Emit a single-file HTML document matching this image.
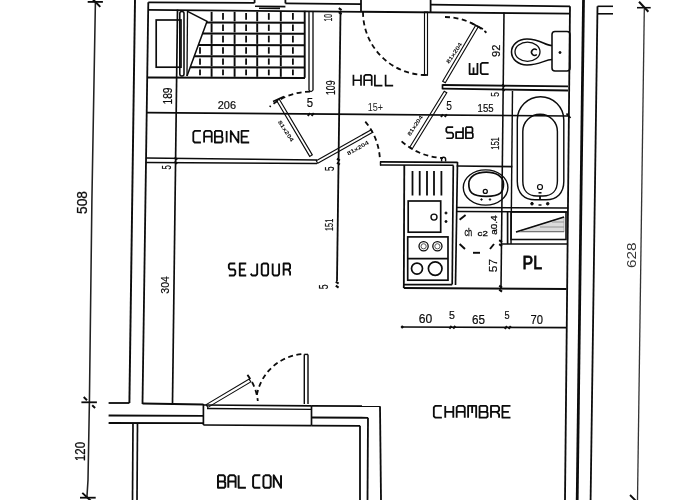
<!DOCTYPE html>
<html><head><meta charset="utf-8"><style>
html,body{margin:0;padding:0;background:#fff;width:700px;height:500px;overflow:hidden}
svg{display:block}
</style></head><body>
<svg width="700" height="500" viewBox="0 0 700 500" stroke-linecap="butt">
<rect width="700" height="500" fill="#fff"/>
<g opacity="0.999">
<path d="M95.4,2.3 L91.9,200 L89.4,402.3 L88,480 L86.9,497.7" stroke="#222" stroke-width="1.56" fill="none"/>
<line x1="87.7" y1="1.9" x2="102.9" y2="1.9" stroke="#0c0c0c" stroke-width="1.80"/>
<line x1="93" y1="-0.5" x2="100.3" y2="6.9" stroke="#0c0c0c" stroke-width="2.04"/>
<line x1="81.4" y1="402.3" x2="96.9" y2="402.3" stroke="#0c0c0c" stroke-width="1.80"/>
<line x1="83.7" y1="397" x2="87" y2="400.2" stroke="#0c0c0c" stroke-width="1.92"/>
<line x1="92.2" y1="405.2" x2="95.1" y2="408" stroke="#0c0c0c" stroke-width="1.92"/>
<line x1="80" y1="497.7" x2="95.7" y2="497.7" stroke="#0c0c0c" stroke-width="1.80"/>
<line x1="82.3" y1="492.9" x2="91" y2="501" stroke="#0c0c0c" stroke-width="1.92"/>
<text transform="translate(86.86,214.00) rotate(-90)" x="0.00" y="0" font-family="Liberation Sans" font-size="14.12" font-weight="normal" fill="#0c0c0c" stroke="#0c0c0c" stroke-width="0.25" textLength="23.01" lengthAdjust="spacingAndGlyphs">508</text>
<text transform="translate(84.84,461.00) rotate(-90)" x="0.00" y="0" font-family="Liberation Sans" font-size="15.54" font-weight="normal" fill="#0c0c0c" stroke="#0c0c0c" stroke-width="0.25" textLength="19.01" lengthAdjust="spacingAndGlyphs">120</text>
<line x1="644.3" y1="9" x2="637.5" y2="500" stroke="#333" stroke-width="1.32"/>
<line x1="637" y1="7.7" x2="650.7" y2="7.7" stroke="#0c0c0c" stroke-width="1.56"/>
<line x1="639" y1="1.7" x2="648.4" y2="11.7" stroke="#0c0c0c" stroke-width="2.04"/>
<line x1="630" y1="495" x2="636" y2="501" stroke="#0c0c0c" stroke-width="1.80"/>
<text transform="translate(635.86,268.00) rotate(-90)" x="0.00" y="0" font-family="Liberation Sans" font-size="13.56" font-weight="normal" fill="#333" textLength="25.61" lengthAdjust="spacingAndGlyphs">628</text>
<line x1="135" y1="0" x2="129.4" y2="403" stroke="#0c0c0c" stroke-width="1.92"/>
<line x1="108.6" y1="403" x2="129.4" y2="403" stroke="#0c0c0c" stroke-width="1.80"/>
<line x1="148.3" y1="2.3" x2="142.5" y2="404" stroke="#0c0c0c" stroke-width="1.80"/>
<line x1="142.5" y1="403.5" x2="203.4" y2="404.5" stroke="#0c0c0c" stroke-width="1.80"/>
<line x1="108.6" y1="415.5" x2="203.4" y2="415.8" stroke="#0c0c0c" stroke-width="1.80"/>
<line x1="108.6" y1="423" x2="203.4" y2="423.2" stroke="#0c0c0c" stroke-width="1.80"/>
<line x1="133" y1="423" x2="132.5" y2="500" stroke="#0c0c0c" stroke-width="1.68"/>
<line x1="137.5" y1="423" x2="137" y2="500" stroke="#0c0c0c" stroke-width="1.68"/>
<line x1="148.3" y1="2.3" x2="254.6" y2="2.9" stroke="#0c0c0c" stroke-width="1.80"/>
<line x1="254.6" y1="0" x2="254.6" y2="2.9" stroke="#0c0c0c" stroke-width="1.80"/>
<line x1="285.4" y1="3.4" x2="361" y2="4.1" stroke="#0c0c0c" stroke-width="1.80"/>
<line x1="285.4" y1="0" x2="285.4" y2="3.4" stroke="#0c0c0c" stroke-width="1.80"/>
<line x1="361" y1="0" x2="361" y2="11.5" stroke="#0c0c0c" stroke-width="1.80"/>
<line x1="430.6" y1="4.6" x2="570" y2="6.3" stroke="#0c0c0c" stroke-width="1.80"/>
<line x1="430.6" y1="0" x2="430.6" y2="12" stroke="#0c0c0c" stroke-width="1.80"/>
<line x1="255" y1="6.3" x2="285.4" y2="6.6" stroke="#0c0c0c" stroke-width="1.56"/>
<line x1="259" y1="8.2" x2="280" y2="8.4" stroke="#0c0c0c" stroke-width="1.56"/>
<line x1="148" y1="9.9" x2="570" y2="13.6" stroke="#0c0c0c" stroke-width="1.80"/>
<line x1="570" y1="6.3" x2="565" y2="500" stroke="#0c0c0c" stroke-width="1.80"/>
<line x1="583.5" y1="0" x2="577.2" y2="500" stroke="#0c0c0c" stroke-width="2.76"/>
<line x1="597.5" y1="6.3" x2="590.6" y2="500" stroke="#0c0c0c" stroke-width="1.80"/>
<line x1="597.5" y1="6.3" x2="613" y2="6.3" stroke="#0c0c0c" stroke-width="1.56"/>
<line x1="597.5" y1="13.8" x2="613" y2="13.8" stroke="#0c0c0c" stroke-width="1.56"/>
<rect x="156.2" y="20" width="24.80000000000001" height="47.2" rx="0" stroke="#0c0c0c" stroke-width="1.68" fill="none"/>
<line x1="177.5" y1="9.5" x2="172.5" y2="403" stroke="#0c0c0c" stroke-width="1.68"/>
<rect x="179.8" y="11.5" width="4.199999999999989" height="64.5" rx="2" stroke="#0c0c0c" stroke-width="1.56" fill="none"/>
<line x1="187.5" y1="11" x2="187" y2="76" stroke="#0c0c0c" stroke-width="1.32"/>
<path d="M187.5,11.4 L207,21.4 L187,76" stroke="#0c0c0c" stroke-width="1.56" fill="none"/>
<line x1="206.5970695970696" y1="22.5" x2="305" y2="22.7" stroke="#0c0c0c" stroke-width="2.04"/>
<line x1="202.56776556776558" y1="33.5" x2="305" y2="33.7" stroke="#0c0c0c" stroke-width="2.04"/>
<line x1="198.35531135531136" y1="45" x2="305" y2="45.2" stroke="#0c0c0c" stroke-width="2.04"/>
<line x1="194.25274725274724" y1="56.2" x2="305" y2="56.400000000000006" stroke="#0c0c0c" stroke-width="2.04"/>
<line x1="190.1868131868132" y1="67.3" x2="305" y2="67.5" stroke="#0c0c0c" stroke-width="2.04"/>
<line x1="148" y1="77.5" x2="305" y2="78" stroke="#0c0c0c" stroke-width="2.04"/>
<line x1="200" y1="47.199999999999996" x2="200" y2="53.7" stroke="#0c0c0c" stroke-width="1.80"/>
<line x1="200" y1="58.5" x2="200" y2="64.7" stroke="#0c0c0c" stroke-width="1.80"/>
<line x1="200" y1="69.5" x2="200" y2="75.3" stroke="#0c0c0c" stroke-width="1.80"/>
<line x1="211.6" y1="11.8" x2="211.6" y2="21.3" stroke="#0c0c0c" stroke-width="1.92"/>
<line x1="211.6" y1="23.3" x2="211.6" y2="32.4" stroke="#0c0c0c" stroke-width="1.92"/>
<line x1="211.6" y1="34.4" x2="211.6" y2="43.9" stroke="#0c0c0c" stroke-width="1.92"/>
<line x1="211.6" y1="45.9" x2="211.6" y2="55.2" stroke="#0c0c0c" stroke-width="1.92"/>
<line x1="211.6" y1="57.2" x2="211.6" y2="66.2" stroke="#0c0c0c" stroke-width="1.92"/>
<line x1="211.6" y1="68.2" x2="211.6" y2="76.8" stroke="#0c0c0c" stroke-width="1.92"/>
<line x1="223" y1="13.100000000000001" x2="223" y2="19.8" stroke="#0c0c0c" stroke-width="1.80"/>
<line x1="223" y1="24.6" x2="223" y2="30.9" stroke="#0c0c0c" stroke-width="1.80"/>
<line x1="223" y1="35.699999999999996" x2="223" y2="42.4" stroke="#0c0c0c" stroke-width="1.80"/>
<line x1="223" y1="47.199999999999996" x2="223" y2="53.7" stroke="#0c0c0c" stroke-width="1.80"/>
<line x1="223" y1="58.5" x2="223" y2="64.7" stroke="#0c0c0c" stroke-width="1.80"/>
<line x1="223" y1="69.5" x2="223" y2="75.3" stroke="#0c0c0c" stroke-width="1.80"/>
<line x1="234.6" y1="11.8" x2="234.6" y2="21.3" stroke="#0c0c0c" stroke-width="1.92"/>
<line x1="234.6" y1="23.3" x2="234.6" y2="32.4" stroke="#0c0c0c" stroke-width="1.92"/>
<line x1="234.6" y1="34.4" x2="234.6" y2="43.9" stroke="#0c0c0c" stroke-width="1.92"/>
<line x1="234.6" y1="45.9" x2="234.6" y2="55.2" stroke="#0c0c0c" stroke-width="1.92"/>
<line x1="234.6" y1="57.2" x2="234.6" y2="66.2" stroke="#0c0c0c" stroke-width="1.92"/>
<line x1="234.6" y1="68.2" x2="234.6" y2="76.8" stroke="#0c0c0c" stroke-width="1.92"/>
<line x1="246.1" y1="13.100000000000001" x2="246.1" y2="19.8" stroke="#0c0c0c" stroke-width="1.80"/>
<line x1="246.1" y1="24.6" x2="246.1" y2="30.9" stroke="#0c0c0c" stroke-width="1.80"/>
<line x1="246.1" y1="35.699999999999996" x2="246.1" y2="42.4" stroke="#0c0c0c" stroke-width="1.80"/>
<line x1="246.1" y1="47.199999999999996" x2="246.1" y2="53.7" stroke="#0c0c0c" stroke-width="1.80"/>
<line x1="246.1" y1="58.5" x2="246.1" y2="64.7" stroke="#0c0c0c" stroke-width="1.80"/>
<line x1="246.1" y1="69.5" x2="246.1" y2="75.3" stroke="#0c0c0c" stroke-width="1.80"/>
<line x1="257.2" y1="11.8" x2="257.2" y2="21.3" stroke="#0c0c0c" stroke-width="1.92"/>
<line x1="257.2" y1="23.3" x2="257.2" y2="32.4" stroke="#0c0c0c" stroke-width="1.92"/>
<line x1="257.2" y1="34.4" x2="257.2" y2="43.9" stroke="#0c0c0c" stroke-width="1.92"/>
<line x1="257.2" y1="45.9" x2="257.2" y2="55.2" stroke="#0c0c0c" stroke-width="1.92"/>
<line x1="257.2" y1="57.2" x2="257.2" y2="66.2" stroke="#0c0c0c" stroke-width="1.92"/>
<line x1="257.2" y1="68.2" x2="257.2" y2="76.8" stroke="#0c0c0c" stroke-width="1.92"/>
<line x1="268.8" y1="13.100000000000001" x2="268.8" y2="19.8" stroke="#0c0c0c" stroke-width="1.80"/>
<line x1="268.8" y1="24.6" x2="268.8" y2="30.9" stroke="#0c0c0c" stroke-width="1.80"/>
<line x1="268.8" y1="35.699999999999996" x2="268.8" y2="42.4" stroke="#0c0c0c" stroke-width="1.80"/>
<line x1="268.8" y1="47.199999999999996" x2="268.8" y2="53.7" stroke="#0c0c0c" stroke-width="1.80"/>
<line x1="268.8" y1="58.5" x2="268.8" y2="64.7" stroke="#0c0c0c" stroke-width="1.80"/>
<line x1="268.8" y1="69.5" x2="268.8" y2="75.3" stroke="#0c0c0c" stroke-width="1.80"/>
<line x1="280.8" y1="11.8" x2="280.8" y2="21.3" stroke="#0c0c0c" stroke-width="1.92"/>
<line x1="280.8" y1="23.3" x2="280.8" y2="32.4" stroke="#0c0c0c" stroke-width="1.92"/>
<line x1="280.8" y1="34.4" x2="280.8" y2="43.9" stroke="#0c0c0c" stroke-width="1.92"/>
<line x1="280.8" y1="45.9" x2="280.8" y2="55.2" stroke="#0c0c0c" stroke-width="1.92"/>
<line x1="280.8" y1="57.2" x2="280.8" y2="66.2" stroke="#0c0c0c" stroke-width="1.92"/>
<line x1="280.8" y1="68.2" x2="280.8" y2="76.8" stroke="#0c0c0c" stroke-width="1.92"/>
<line x1="292.9" y1="13.100000000000001" x2="292.9" y2="19.8" stroke="#0c0c0c" stroke-width="1.80"/>
<line x1="292.9" y1="24.6" x2="292.9" y2="30.9" stroke="#0c0c0c" stroke-width="1.80"/>
<line x1="292.9" y1="35.699999999999996" x2="292.9" y2="42.4" stroke="#0c0c0c" stroke-width="1.80"/>
<line x1="292.9" y1="47.199999999999996" x2="292.9" y2="53.7" stroke="#0c0c0c" stroke-width="1.80"/>
<line x1="292.9" y1="58.5" x2="292.9" y2="64.7" stroke="#0c0c0c" stroke-width="1.80"/>
<line x1="292.9" y1="69.5" x2="292.9" y2="75.3" stroke="#0c0c0c" stroke-width="1.80"/>
<line x1="304.7" y1="10.8" x2="304.7" y2="77.8" stroke="#0c0c0c" stroke-width="1.92"/>
<path d="M309,12 L309,90 Q311,93 313,90 L313,12" stroke="#0c0c0c" stroke-width="1.32" fill="none"/>
<line x1="340.5" y1="12" x2="337" y2="281" stroke="#0c0c0c" stroke-width="1.80"/>
<text transform="translate(331.89,21.50) rotate(-90)" x="0.00" y="0" font-family="Liberation Sans" font-size="11.30" font-weight="normal" fill="#0c0c0c" stroke="#0c0c0c" stroke-width="0.2" textLength="7.50" lengthAdjust="spacingAndGlyphs">10</text>
<text transform="translate(335.37,95.00) rotate(-90)" x="0.00" y="0" font-family="Liberation Sans" font-size="13.42" font-weight="normal" fill="#0c0c0c" stroke="#0c0c0c" stroke-width="0.2" textLength="14.50" lengthAdjust="spacingAndGlyphs">109</text>
<text x="306.70" y="106.87" font-family="Liberation Sans" font-size="12.89" font-weight="normal" fill="#0c0c0c" stroke="#0c0c0c" stroke-width="0.2" textLength="6.30" lengthAdjust="spacingAndGlyphs">5</text>
<text transform="translate(334.48,170.90) rotate(-90)" x="0.00" y="0" font-family="Liberation Sans" font-size="12.03" font-weight="normal" fill="#0c0c0c" stroke="#0c0c0c" stroke-width="0.2" textLength="4.50" lengthAdjust="spacingAndGlyphs">5</text>
<text transform="translate(332.89,231.00) rotate(-90)" x="0.00" y="0" font-family="Liberation Sans" font-size="11.17" font-weight="normal" fill="#0c0c0c" stroke="#0c0c0c" stroke-width="0.2" textLength="12.30" lengthAdjust="spacingAndGlyphs">151</text>
<text transform="translate(328.48,289.20) rotate(-90)" x="0.00" y="0" font-family="Liberation Sans" font-size="12.46" font-weight="normal" fill="#0c0c0c" stroke="#0c0c0c" stroke-width="0.2" textLength="4.80" lengthAdjust="spacingAndGlyphs">5</text>
<line x1="147" y1="112.7" x2="569" y2="116" stroke="#0c0c0c" stroke-width="1.68"/>
<text x="217.70" y="108.89" font-family="Liberation Sans" font-size="11.30" font-weight="normal" fill="#0c0c0c" stroke="#0c0c0c" stroke-width="0.2" textLength="18.31" lengthAdjust="spacingAndGlyphs">206</text>
<text x="367.70" y="111.38" font-family="Liberation Sans" font-size="11.60" font-weight="normal" fill="#222" textLength="15.30" lengthAdjust="spacingAndGlyphs">15+</text>
<text x="446.30" y="109.67" font-family="Liberation Sans" font-size="12.89" font-weight="normal" fill="#0c0c0c" stroke="#0c0c0c" stroke-width="0.1" textLength="5.70" lengthAdjust="spacingAndGlyphs">5</text>
<text x="477.60" y="111.59" font-family="Liberation Sans" font-size="11.03" font-weight="normal" fill="#0c0c0c" stroke="#0c0c0c" stroke-width="0.2" textLength="16.00" lengthAdjust="spacingAndGlyphs">155</text>
<text transform="translate(499.39,96.70) rotate(-90)" x="0.00" y="0" font-family="Liberation Sans" font-size="11.17" font-weight="normal" fill="#0c0c0c" stroke="#0c0c0c" stroke-width="0.2" textLength="4.70" lengthAdjust="spacingAndGlyphs">5</text>
<text transform="translate(172.48,104.60) rotate(-90)" x="0.00" y="0" font-family="Liberation Sans" font-size="12.15" font-weight="normal" fill="#0c0c0c" stroke="#0c0c0c" stroke-width="0.2" textLength="17.20" lengthAdjust="spacingAndGlyphs">189</text>
<text transform="translate(170.67,169.50) rotate(-90)" x="0.00" y="0" font-family="Liberation Sans" font-size="12.61" font-weight="normal" fill="#0c0c0c" stroke="#0c0c0c" stroke-width="0.2" textLength="4.20" lengthAdjust="spacingAndGlyphs">5</text>
<text transform="translate(169.09,293.70) rotate(-90)" x="0.00" y="0" font-family="Liberation Sans" font-size="11.30" font-weight="normal" fill="#0c0c0c" stroke="#0c0c0c" stroke-width="0.2" textLength="17.50" lengthAdjust="spacingAndGlyphs">304</text>
<line x1="146" y1="158" x2="317" y2="160" stroke="#0c0c0c" stroke-width="1.68"/>
<line x1="146" y1="162.5" x2="317" y2="163.5" stroke="#0c0c0c" stroke-width="1.68"/>
<path d="M200.91,130.90 L194.67,130.90 L193.30,132.30 L193.30,141.10 L194.67,142.50 L200.91,142.50 M204.10,142.50 L204.10,132.30 L205.47,130.90 L210.34,130.90 L211.71,132.30 L211.71,142.50 M204.10,136.70 L211.71,136.70 M214.90,130.90 L214.90,142.50 L221.36,142.50 L222.50,141.34 L222.50,137.86 L221.36,136.70 L214.90,136.70 M214.90,130.90 L220.98,130.90 L222.12,132.06 L222.12,135.54 L221.36,136.70 M226.65,130.90 L226.65,142.50 M230.79,142.50 L230.79,130.90 L238.40,142.50 L238.40,130.90 M249.20,130.90 L241.59,130.90 L241.59,142.50 L249.20,142.50 M241.59,136.70 L247.67,136.70" stroke="#0c0c0c" stroke-width="1.81" fill="none" stroke-linejoin="round" stroke-linecap="butt"/>
<path d="M276.7100905962469,100.76559371086064 L309.7100905962469,156.36559371086065 L312.2899094037531,154.83440628913934 L279.2899094037531,99.23440628913936 Z" stroke="#0c0c0c" stroke-width="1.14" fill="none"/>
<line x1="273" y1="101.5" x2="284" y2="96.5" stroke="#0c0c0c" stroke-width="1.44"/>
<path d="M310.0,91.6 A64,64 0 0 0 269.6,106.8" stroke="#0c0c0c" stroke-width="1.80" fill="none" stroke-dasharray="5 3.5"/>
<path d="M317.7365195950541,163.30672831380565 L372.7365195950541,132.30672831380565 L371.2634804049459,129.69327168619435 L316.2634804049459,160.69327168619435 Z" stroke="#0c0c0c" stroke-width="1.14" fill="none"/>
<path d="M365.3,121.6 A63,63 0 0 1 379.8,157.5" stroke="#0c0c0c" stroke-width="1.80" fill="none" stroke-dasharray="5 3.5"/>
<path d="M444.22290419035176,91.21321776012742 L409.72290419035176,147.21321776012743 L412.27709580964824,148.78678223987257 L446.77709580964824,92.78678223987258 Z" stroke="#0c0c0c" stroke-width="1.14" fill="none"/>
<path d="M401.6,141.3 A66,66 0 0 0 443.0,158.0" stroke="#0c0c0c" stroke-width="1.80" fill="none" stroke-dasharray="5 3.5"/>
<path d="M445.2923076923077,82.76153846153846 L478.2923076923077,26.76153846153846 L475.7076923076923,25.23846153846154 L442.7076923076923,81.23846153846154 Z" stroke="#0c0c0c" stroke-width="1.14" fill="none"/>
<line x1="471" y1="23" x2="483" y2="29" stroke="#0c0c0c" stroke-width="1.44"/>
<path d="M445.0,17.0 A65,65 0 0 1 486.4,32.7" stroke="#0c0c0c" stroke-width="1.80" fill="none" stroke-dasharray="5 3.5"/>
<path d="M424.5,12.0 L424.5,75.0 L427.5,75.0 L427.5,12.0 Z" stroke="#0c0c0c" stroke-width="1.14" fill="none"/>
<line x1="423" y1="75" x2="428" y2="75" stroke="#0c0c0c" stroke-width="1.44"/>
<path d="M363.0,12.0 A63,63 0 0 0 426.0,75.0" stroke="#0c0c0c" stroke-width="1.80" fill="none" stroke-dasharray="5 3.5"/>
<path d="M353.44,74.84 L353.44,85.66 M360.99,74.84 L360.99,85.66 M353.44,80.25 L360.99,80.25 M364.16,85.66 L364.16,76.14 L365.52,74.84 L370.36,74.84 L371.71,76.14 L371.71,85.66 M364.16,80.25 L371.71,80.25 M374.89,74.84 L374.89,85.66 L382.44,85.66 M385.61,74.84 L385.61,85.66 L393.16,85.66" stroke="#0c0c0c" stroke-width="1.69" fill="none" stroke-linejoin="round" stroke-linecap="butt"/>
<path d="M453.18,127.16 L447.51,127.16 L446.26,128.49 L446.26,131.37 L447.51,132.70 L451.94,132.70 L453.18,134.03 L453.18,136.91 L451.94,138.24 L446.26,138.24 M463.01,127.16 L463.01,138.24 L456.09,138.24 L456.09,132.15 L463.01,132.15 M465.92,127.16 L465.92,138.24 L471.80,138.24 L472.84,137.13 L472.84,133.81 L471.80,132.70 L465.92,132.70 M465.92,127.16 L471.45,127.16 L472.49,128.27 L472.49,131.59 L471.80,132.70" stroke="#0c0c0c" stroke-width="1.73" fill="none" stroke-linejoin="round" stroke-linecap="butt"/>
<text transform="translate(498.58,149.80) rotate(-90)" x="0.00" y="0" font-family="Liberation Sans" font-size="11.60" font-weight="normal" fill="#0c0c0c" stroke="#0c0c0c" stroke-width="0.2" textLength="12.60" lengthAdjust="spacingAndGlyphs">151</text>
<line x1="380" y1="161.9" x2="457.6" y2="162.3" stroke="#0c0c0c" stroke-width="1.68"/>
<line x1="380" y1="165" x2="453.5" y2="165.3" stroke="#0c0c0c" stroke-width="1.56"/>
<line x1="380.5" y1="161.5" x2="380.5" y2="165.5" stroke="#0c0c0c" stroke-width="1.44"/>
<path d="M441.6,161.5 L441.6,159.3 A2,2 0 0 1 445.6,159.3 L445.6,161.5" stroke="#0c0c0c" stroke-width="1.44" fill="none"/>
<line x1="442.5" y1="85" x2="568" y2="86.3" stroke="#0c0c0c" stroke-width="1.80"/>
<line x1="442.5" y1="88.6" x2="568" y2="90.5" stroke="#0c0c0c" stroke-width="1.80"/>
<line x1="442.5" y1="84.3" x2="442.5" y2="89.3" stroke="#0c0c0c" stroke-width="1.68"/>
<path d="M469.58,62.88 L469.58,74.12 L477.45,74.12 L477.45,62.88 M473.51,67.38 L473.51,74.12 M488.62,62.88 L482.17,62.88 L480.75,64.23 L480.75,72.77 L482.17,74.12 L488.62,74.12" stroke="#0c0c0c" stroke-width="1.76" fill="none" stroke-linejoin="round" stroke-linecap="butt"/>
<text transform="translate(499.89,57.00) rotate(-90)" x="0.00" y="0" font-family="Liberation Sans" font-size="10.88" font-weight="normal" fill="#0c0c0c" stroke="#0c0c0c" stroke-width="0.2" textLength="12.30" lengthAdjust="spacingAndGlyphs">92</text>
<line x1="504" y1="12.6" x2="501" y2="289" stroke="#0c0c0c" stroke-width="1.56"/>
<line x1="512.5" y1="91" x2="511" y2="244" stroke="#0c0c0c" stroke-width="1.44"/>
<rect x="552" y="31.5" width="18" height="39.5" rx="3" stroke="#0c0c0c" stroke-width="1.56" fill="none"/>
<circle cx="560" cy="52.5" r="1.1" stroke="#0c0c0c" stroke-width="0.8" fill="#0c0c0c"/>
<path d="M552,45.5 C545,45.5 540,39 527,39 C518,39 511.5,45 511.5,52 C511.5,59 518,65 527,65 C540,65 545,59.5 552,59.5" stroke="#0c0c0c" stroke-width="1.56" fill="none"/>
<ellipse cx="527.5" cy="51.75" rx="12.5" ry="9.6" stroke="#0c0c0c" stroke-width="1.3" fill="none"/>
<path d="M536.8,50 A3.1,3.1 0 1 0 536.8,54.5" stroke="#0c0c0c" stroke-width="1.56" fill="none"/>
<path d="M517.3,120 A23.25,23.25 0 0 1 563.8,120 L563.8,181.6 C563.8,193 557,199.7 546,199.7 L535,199.7 C524,199.7 517.3,193 517.3,181.6 Z" stroke="#0c0c0c" stroke-width="1.44" fill="none"/>
<path d="M522.8,131.5 A17.3,17.3 0 0 1 557.4,131.5 L557.4,181 C557.4,190.5 552,196 543,196 L537,196 C528,196 522.8,190.5 522.8,181 Z" stroke="#0c0c0c" stroke-width="1.44" fill="none"/>
<circle cx="540" cy="187" r="2.5" stroke="#0c0c0c" stroke-width="1.2" fill="none"/>
<line x1="538.5" y1="192.8" x2="541.5" y2="192.8" stroke="#0c0c0c" stroke-width="1.56"/>
<line x1="540" y1="196" x2="540" y2="200" stroke="#0c0c0c" stroke-width="1.80"/>
<line x1="538.5" y1="205" x2="541.5" y2="205" stroke="#0c0c0c" stroke-width="1.44"/>
<circle cx="532" cy="203.7" r="1.3" stroke="#0c0c0c" stroke-width="1" fill="#0c0c0c"/>
<circle cx="547.7" cy="203.7" r="1.3" stroke="#0c0c0c" stroke-width="1" fill="#0c0c0c"/>
<line x1="457" y1="207.5" x2="568" y2="208" stroke="#0c0c0c" stroke-width="1.56"/>
<line x1="457" y1="211.5" x2="568" y2="212" stroke="#0c0c0c" stroke-width="1.56"/>
<line x1="507.6" y1="212" x2="507.6" y2="244" stroke="#0c0c0c" stroke-width="1.68"/>
<rect x="511" y="212" width="55" height="27.5" rx="0" stroke="#0c0c0c" stroke-width="1.56" fill="none"/>
<path d="M516,232 L564,217 L564,232 Z" stroke="#999" stroke-width="0.72" fill="#dcdcdc"/>
<line x1="516" y1="232" x2="564" y2="217" stroke="#0c0c0c" stroke-width="1.56"/>
<line x1="520" y1="231.5" x2="564" y2="231.5" stroke="#777" stroke-width="1.20"/>
<line x1="540" y1="227" x2="564" y2="227" stroke="#999" stroke-width="1.08"/>
<line x1="552" y1="222" x2="564" y2="222" stroke="#999" stroke-width="1.08"/>
<text x="522.50" y="268.80" font-family="Liberation Sans" font-size="18.60" font-weight="normal" fill="#0c0c0c" stroke="#0c0c0c" stroke-width="0.8" textLength="19.50" lengthAdjust="spacingAndGlyphs">PL</text>
<line x1="456.7" y1="166" x2="512.3" y2="166.6" stroke="#0c0c0c" stroke-width="1.68"/>
<ellipse cx="485.6" cy="187.5" rx="22.3" ry="17.6" stroke="#0c0c0c" stroke-width="1.4" fill="none"/>
<path d="M468.8,184 C468.8,176 477,172.1 486.2,172.1 C495.4,172.1 503.5,176 503.5,184 C503.5,192 501,196.3 486.2,196.3 C471.4,196.3 468.8,192 468.8,184 Z" stroke="#0c0c0c" stroke-width="1.68" fill="none"/>
<circle cx="485.3" cy="191.4" r="2" stroke="#0c0c0c" stroke-width="1.3" fill="none"/>
<circle cx="481.5" cy="199.5" r="0.8" stroke="#0c0c0c" stroke-width="0.8" fill="#0c0c0c"/>
<circle cx="490" cy="199.5" r="0.8" stroke="#0c0c0c" stroke-width="0.8" fill="#0c0c0c"/>
<line x1="404.3" y1="165" x2="403.8" y2="288" stroke="#0c0c0c" stroke-width="1.80"/>
<line x1="403.8" y1="288" x2="566.5" y2="289" stroke="#0c0c0c" stroke-width="1.80"/>
<line x1="403.8" y1="284.6" x2="452.2" y2="284.6" stroke="#0c0c0c" stroke-width="1.68"/>
<line x1="453.3" y1="165.5" x2="452.2" y2="284.6" stroke="#0c0c0c" stroke-width="1.68"/>
<line x1="457.5" y1="162" x2="455.5" y2="285" stroke="#0c0c0c" stroke-width="1.68"/>
<line x1="412.5" y1="171" x2="412.5" y2="195.5" stroke="#0c0c0c" stroke-width="1.80"/>
<line x1="419.7" y1="171" x2="419.7" y2="195.5" stroke="#0c0c0c" stroke-width="1.80"/>
<line x1="427" y1="171" x2="427" y2="195.5" stroke="#0c0c0c" stroke-width="1.80"/>
<line x1="434" y1="171" x2="434" y2="195.5" stroke="#0c0c0c" stroke-width="1.80"/>
<line x1="441.4" y1="171" x2="441.4" y2="195.5" stroke="#0c0c0c" stroke-width="1.80"/>
<rect x="408.2" y="201" width="32.5" height="31.19999999999999" rx="0" stroke="#0c0c0c" stroke-width="1.68" fill="none"/>
<circle cx="434" cy="217.1" r="3" stroke="#0c0c0c" stroke-width="1.4" fill="none"/>
<circle cx="446" cy="213" r="1.1" stroke="#0c0c0c" stroke-width="0.8" fill="#0c0c0c"/>
<circle cx="446" cy="221.5" r="1.1" stroke="#0c0c0c" stroke-width="0.8" fill="#0c0c0c"/>
<rect x="407.7" y="236.9" width="40.30000000000001" height="43.29999999999998" rx="0" stroke="#0c0c0c" stroke-width="1.68" fill="none"/>
<line x1="407.7" y1="258.7" x2="448" y2="258.7" stroke="#0c0c0c" stroke-width="1.68"/>
<circle cx="423.6" cy="246.3" r="4.6" stroke="#0c0c0c" stroke-width="1.3" fill="none"/>
<circle cx="423.6" cy="246.3" r="2.6" stroke="#555" stroke-width="1.0" fill="none"/>
<circle cx="437.4" cy="246.3" r="4.6" stroke="#0c0c0c" stroke-width="1.3" fill="none"/>
<circle cx="437.4" cy="246.3" r="2.6" stroke="#555" stroke-width="1.0" fill="none"/>
<circle cx="417" cy="268.6" r="5.5" stroke="#0c0c0c" stroke-width="1.7" fill="none"/>
<circle cx="435.2" cy="268.6" r="6.8" stroke="#0c0c0c" stroke-width="1.7" fill="none"/>
<line x1="459.6" y1="219.8" x2="465.6" y2="215" stroke="#0c0c0c" stroke-width="1.92"/>
<line x1="459.6" y1="244" x2="465" y2="249" stroke="#0c0c0c" stroke-width="1.92"/>
<line x1="473" y1="252.8" x2="480" y2="252.8" stroke="#0c0c0c" stroke-width="1.92"/>
<line x1="490" y1="249" x2="494" y2="244" stroke="#0c0c0c" stroke-width="1.92"/>
<text x="464.40" y="235.89" font-family="Liberation Sans" font-size="10.61" font-weight="normal" fill="#0c0c0c" stroke="#0c0c0c" stroke-width="0.3" textLength="7.80" lengthAdjust="spacingAndGlyphs">ch</text>
<text x="477.60" y="235.92" font-family="Liberation Sans" font-size="7.63" font-weight="normal" fill="#0c0c0c" stroke="#0c0c0c" stroke-width="0.3" textLength="10.20" lengthAdjust="spacingAndGlyphs">c2</text>
<text transform="translate(497.32,234.80) rotate(-90)" x="0.00" y="0" font-family="Liberation Sans" font-size="8.47" font-weight="normal" fill="#0c0c0c" stroke="#0c0c0c" stroke-width="0.3" textLength="19.20" lengthAdjust="spacingAndGlyphs">a0.4</text>
<text transform="translate(497.49,272.20) rotate(-90)" x="0.00" y="0" font-family="Liberation Sans" font-size="11.17" font-weight="normal" fill="#0c0c0c" stroke="#0c0c0c" stroke-width="0.2" textLength="13.20" lengthAdjust="spacingAndGlyphs">57</text>
<line x1="501" y1="244" x2="567" y2="244" stroke="#0c0c0c" stroke-width="1.56"/>
<line x1="401.7" y1="327" x2="567" y2="327.7" stroke="#0c0c0c" stroke-width="1.68"/>
<circle cx="402.2" cy="327" r="1.2" stroke="#0c0c0c" stroke-width="0.5" fill="#0c0c0c"/>
<text x="418.80" y="322.87" font-family="Liberation Sans" font-size="12.71" font-weight="normal" fill="#0c0c0c" stroke="#0c0c0c" stroke-width="0.2" textLength="13.50" lengthAdjust="spacingAndGlyphs">60</text>
<text x="449.00" y="319.19" font-family="Liberation Sans" font-size="11.46" font-weight="normal" fill="#0c0c0c" stroke="#0c0c0c" stroke-width="0.2" textLength="5.90" lengthAdjust="spacingAndGlyphs">5</text>
<text x="472.00" y="323.78" font-family="Liberation Sans" font-size="12.15" font-weight="normal" fill="#0c0c0c" stroke="#0c0c0c" stroke-width="0.2" textLength="13.00" lengthAdjust="spacingAndGlyphs">65</text>
<text x="504.60" y="319.19" font-family="Liberation Sans" font-size="11.46" font-weight="normal" fill="#0c0c0c" stroke="#0c0c0c" stroke-width="0.2" textLength="5.10" lengthAdjust="spacingAndGlyphs">5</text>
<text x="530.50" y="323.87" font-family="Liberation Sans" font-size="12.71" font-weight="normal" fill="#0c0c0c" stroke="#0c0c0c" stroke-width="0.2" textLength="12.50" lengthAdjust="spacingAndGlyphs">70</text>
<path d="M235.28,263.44 L230.00,263.44 L228.84,264.88 L228.84,268.01 L230.00,269.45 L234.12,269.45 L235.28,270.89 L235.28,274.02 L234.12,275.46 L228.84,275.46 M246.24,263.44 L239.79,263.44 L239.79,275.46 L246.24,275.46 M239.79,269.45 L244.95,269.45 M257.19,263.44 L257.19,274.02 L255.91,275.46 L252.04,275.46 L250.75,273.66 M262.87,263.44 L266.99,263.44 L268.15,264.88 L268.15,274.02 L266.99,275.46 L262.87,275.46 L261.71,274.02 L261.71,264.88 L262.87,263.44 M272.66,263.44 L272.66,274.02 L273.82,275.46 L277.95,275.46 L279.11,274.02 L279.11,263.44 M283.62,275.46 L283.62,263.44 L288.90,263.44 L290.06,264.88 L290.06,268.25 L288.90,269.45 L283.62,269.45 M288.13,269.45 L290.06,272.10 L290.06,275.46" stroke="#0c0c0c" stroke-width="1.88" fill="none" stroke-linejoin="round" stroke-linecap="butt"/>
<line x1="203.4" y1="404" x2="203.4" y2="425" stroke="#0c0c0c" stroke-width="1.68"/>
<line x1="203.4" y1="405" x2="311.5" y2="405.8" stroke="#0c0c0c" stroke-width="1.68"/>
<line x1="207" y1="408.5" x2="311.5" y2="409.4" stroke="#0c0c0c" stroke-width="1.44"/>
<line x1="203.4" y1="425" x2="311.5" y2="425.6" stroke="#0c0c0c" stroke-width="1.68"/>
<line x1="311.5" y1="405.5" x2="311.5" y2="425.6" stroke="#0c0c0c" stroke-width="1.68"/>
<path d="M207.81612242754687,407.3762064464516 L250.81612242754687,381.8762064464516 L249.18387757245313,379.1237935535484 L206.18387757245313,404.6237935535484 Z" stroke="#0c0c0c" stroke-width="1.14" fill="none"/>
<path d="M247.4,374.9 A51,51 0 0 1 257.8,401.0" stroke="#0c0c0c" stroke-width="1.80" fill="none" stroke-dasharray="5 3.5"/>
<path d="M256.9,394.8 A50,50 0 0 1 304.0,354.0" stroke="#0c0c0c" stroke-width="1.80" fill="none" stroke-dasharray="5 3.5"/>
<line x1="304.3" y1="354.4" x2="304.3" y2="404" stroke="#0c0c0c" stroke-width="1.44"/>
<line x1="308" y1="354.4" x2="308" y2="404" stroke="#0c0c0c" stroke-width="1.44"/>
<line x1="304.3" y1="354.4" x2="308" y2="354.4" stroke="#0c0c0c" stroke-width="1.44"/>
<line x1="311.5" y1="405.8" x2="380" y2="406.2" stroke="#0c0c0c" stroke-width="1.80"/>
<line x1="380" y1="406.2" x2="381" y2="500" stroke="#0c0c0c" stroke-width="1.80"/>
<line x1="311.5" y1="417.5" x2="368" y2="417.8" stroke="#0c0c0c" stroke-width="1.80"/>
<line x1="368" y1="417.8" x2="367.5" y2="500" stroke="#0c0c0c" stroke-width="1.80"/>
<line x1="311.5" y1="425.6" x2="360" y2="425.8" stroke="#0c0c0c" stroke-width="1.80"/>
<line x1="360" y1="425.8" x2="360" y2="500" stroke="#0c0c0c" stroke-width="1.80"/>
<path d="M441.87,405.92 L435.27,405.92 L433.82,407.33 L433.82,416.27 L435.27,417.68 L441.87,417.68 M445.25,405.92 L445.25,417.68 M453.31,405.92 L453.31,417.68 M445.25,411.80 L453.31,411.80 M456.69,417.68 L456.69,407.33 L458.14,405.92 L463.29,405.92 L464.74,407.33 L464.74,417.68 M456.69,411.80 L464.74,411.80 M468.12,417.68 L468.12,405.92 L476.18,405.92 L476.18,417.68 M472.15,405.92 L472.15,412.98 M479.56,405.92 L479.56,417.68 L486.40,417.68 L487.61,416.51 L487.61,412.98 L486.40,411.80 L479.56,411.80 M479.56,405.92 L486.00,405.92 L487.21,407.09 L487.21,410.62 L486.40,411.80 M490.99,417.68 L490.99,405.92 L497.60,405.92 L499.05,407.33 L499.05,410.62 L497.60,411.80 L490.99,411.80 M496.63,411.80 L499.05,414.39 L499.05,417.68 M510.48,405.92 L502.43,405.92 L502.43,417.68 L510.48,417.68 M502.43,411.80 L508.87,411.80" stroke="#0c0c0c" stroke-width="1.84" fill="none" stroke-linejoin="round" stroke-linecap="butt"/>
<path d="M217.98,475.28 L217.98,487.82 L224.16,487.82 L225.25,486.57 L225.25,482.80 L224.16,481.55 L217.98,481.55 M217.98,475.28 L223.80,475.28 L224.89,476.53 L224.89,480.30 L224.16,481.55 M228.30,487.82 L228.30,476.78 L229.61,475.28 L234.27,475.28 L235.58,476.78 L235.58,487.82 M228.30,481.55 L235.58,481.55 M238.63,475.28 L238.63,487.82 L245.90,487.82 M260.37,475.28 L254.41,475.28 L253.10,476.78 L253.10,486.32 L254.41,487.82 L260.37,487.82 M264.73,475.28 L269.39,475.28 L270.70,476.78 L270.70,486.32 L269.39,487.82 L264.73,487.82 L263.42,486.32 L263.42,476.78 L264.73,475.28 M273.75,487.82 L273.75,475.28 L281.02,487.82 L281.02,475.28" stroke="#0c0c0c" stroke-width="1.96" fill="none" stroke-linejoin="round" stroke-linecap="butt"/>
<line x1="307.8" y1="115.8" x2="310" y2="113.2" stroke="#0c0c0c" stroke-width="2.04"/>
<line x1="311.6" y1="115.8" x2="313.8" y2="113.2" stroke="#0c0c0c" stroke-width="2.04"/>
<line x1="566.5" y1="113.5" x2="570.5" y2="118" stroke="#0c0c0c" stroke-width="1.80"/>
<line x1="440.90000000000003" y1="116.89999999999999" x2="443.1" y2="114.3" stroke="#0c0c0c" stroke-width="2.04"/>
<line x1="444.70000000000005" y1="116.89999999999999" x2="446.90000000000003" y2="114.3" stroke="#0c0c0c" stroke-width="2.04"/>
<line x1="449.40000000000003" y1="328.6" x2="451.6" y2="326.0" stroke="#0c0c0c" stroke-width="2.04"/>
<line x1="453.20000000000005" y1="328.6" x2="455.40000000000003" y2="326.0" stroke="#0c0c0c" stroke-width="2.04"/>
<line x1="504.8" y1="328.8" x2="507" y2="326.2" stroke="#0c0c0c" stroke-width="2.04"/>
<line x1="508.6" y1="328.8" x2="510.8" y2="326.2" stroke="#0c0c0c" stroke-width="2.04"/>
<line x1="337.0" y1="158.7" x2="339.79999999999995" y2="160.7" stroke="#0c0c0c" stroke-width="2.04"/>
<line x1="337.0" y1="162.7" x2="339.79999999999995" y2="164.7" stroke="#0c0c0c" stroke-width="2.04"/>
<line x1="335.8" y1="281.7" x2="338.59999999999997" y2="283.7" stroke="#0c0c0c" stroke-width="2.04"/>
<line x1="335.8" y1="285.7" x2="338.59999999999997" y2="287.7" stroke="#0c0c0c" stroke-width="2.04"/>
<line x1="174.5" y1="157.7" x2="177.3" y2="159.7" stroke="#0c0c0c" stroke-width="2.04"/>
<line x1="174.5" y1="161.7" x2="177.3" y2="163.7" stroke="#0c0c0c" stroke-width="2.04"/>
<line x1="499.20000000000005" y1="240.1" x2="502.0" y2="242.1" stroke="#0c0c0c" stroke-width="2.04"/>
<line x1="499.20000000000005" y1="244.1" x2="502.0" y2="246.1" stroke="#0c0c0c" stroke-width="2.04"/>
<line x1="499.20000000000005" y1="285.7" x2="502.0" y2="287.7" stroke="#0c0c0c" stroke-width="2.04"/>
<line x1="499.20000000000005" y1="289.7" x2="502.0" y2="291.7" stroke="#0c0c0c" stroke-width="2.04"/>
<line x1="502.0" y1="84.7" x2="504.79999999999995" y2="86.7" stroke="#0c0c0c" stroke-width="2.04"/>
<line x1="502.0" y1="88.7" x2="504.79999999999995" y2="90.7" stroke="#0c0c0c" stroke-width="2.04"/>
<line x1="338.8" y1="8.2" x2="341.59999999999997" y2="10.2" stroke="#0c0c0c" stroke-width="2.04"/>
<line x1="338.8" y1="12.2" x2="341.59999999999997" y2="14.2" stroke="#0c0c0c" stroke-width="2.04"/>
<text transform="translate(286,131) rotate(57)" x="-12.0" y="1.98" font-family="Liberation Sans" font-weight="bold" font-size="5.5" fill="#0c0c0c" textLength="24" lengthAdjust="spacingAndGlyphs">81x204</text>
<text transform="translate(357.8,148) rotate(-29)" x="-12.0" y="1.98" font-family="Liberation Sans" font-weight="bold" font-size="5.5" fill="#0c0c0c" textLength="24" lengthAdjust="spacingAndGlyphs">81x204</text>
<text transform="translate(415,125.5) rotate(-56)" x="-11.5" y="1.98" font-family="Liberation Sans" font-weight="bold" font-size="5.5" fill="#0c0c0c" textLength="23" lengthAdjust="spacingAndGlyphs">81x204</text>
<text transform="translate(454,53) rotate(-56)" x="-12.0" y="1.98" font-family="Liberation Sans" font-weight="bold" font-size="5.5" fill="#0c0c0c" textLength="24" lengthAdjust="spacingAndGlyphs">81x204</text>
</g>
</svg></body></html>
